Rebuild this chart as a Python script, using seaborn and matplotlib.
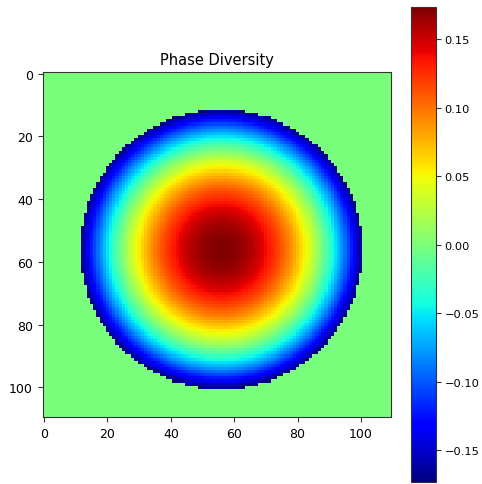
import numpy as np
import pandas as pd
import matplotlib
matplotlib.use("Agg")
import matplotlib.pyplot as plt
import seaborn as sns

# ---- chart values ----
grid_size = 110                 # image is 110 x 110 pixels
pupil_center_row = 56
pupil_center_col = 56
pupil_radius = 44.6             # pixels
defocus_amplitude = 0.1732      # peak of the defocus phase (colorbar top)
x_tick_values = [0, 20, 40, 60, 80, 100]
y_tick_values = [0, 20, 40, 60, 80, 100]
cbar_tick_values = [-0.15, -0.10, -0.05, 0.00, 0.05, 0.10, 0.15]
title_text = "Phase Diversity"

# ---- build the phase map (Zernike defocus inside a circular pupil) ----
rows, cols = np.mgrid[0:grid_size, 0:grid_size]
rho = np.hypot(rows - pupil_center_row, cols - pupil_center_col) / pupil_radius
phase = np.where(rho <= 1.0, -defocus_amplitude * (2 * rho**2 - 1), 0.0)
df = pd.DataFrame(phase)

fig = plt.figure(figsize=(4.82, 4.85), dpi=100)
ax = fig.add_axes([0.0882, 0.138, 0.723, 0.711])
cax = fig.add_axes([0.8527, 0.004, 0.0519, 0.979])

sns.heatmap(df, ax=ax, cbar_ax=cax, cmap="jet",
            vmin=phase.min(), vmax=phase.max(),
            xticklabels=False, yticklabels=False)

ax.set_xticks(np.array(x_tick_values) + 0.5)
ax.set_xticklabels([str(v) for v in x_tick_values], rotation=0, fontsize=9)
ax.set_yticks(np.array(y_tick_values) + 0.5)
ax.set_yticklabels([str(v) for v in y_tick_values], rotation=0, fontsize=9)
ax.tick_params(length=3.5, width=0.8, direction="out", color="#333333")
for sp in ax.spines.values():
    sp.set_visible(True)
    sp.set_linewidth(0.8)
    sp.set_color("#333333")
ax.set_title(title_text, fontsize=10.5)

cb = ax.collections[0].colorbar
cb.set_ticks(cbar_tick_values)
cb.ax.tick_params(labelsize=8.2, length=3.5, width=0.8, pad=2.5, color="#333333")
cb.outline.set_visible(True)
cb.outline.set_linewidth(0.8)
cb.outline.set_edgecolor("#333333")

fig.savefig("out.png", dpi=100)
